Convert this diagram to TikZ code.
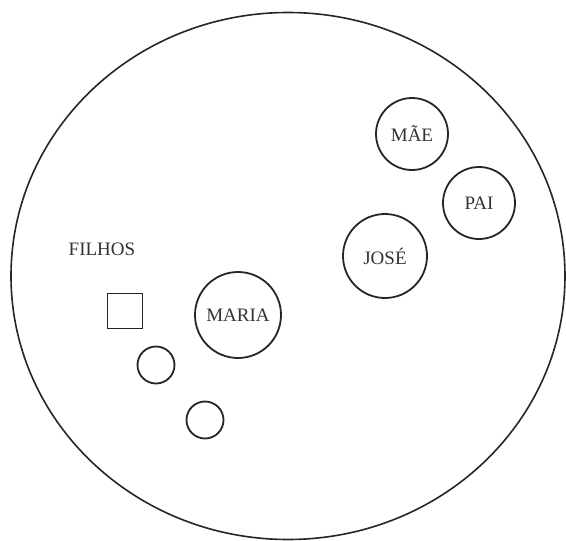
\documentclass[tikz,border=0pt]{standalone}
\usepackage{fontspec}
\setmainfont{Liberation Serif}
\usetikzlibrary{shapes.geometric}
\begin{document}
\begin{tikzpicture}[x=1pt,y=-1pt,
  person/.style={circle,draw=black!85,line width=1.8pt,inner sep=0pt,font=\fontsize{19}{19}\selectfont,text=black!80},
  child/.style={circle,draw=black!85,line width=1.8pt,inner sep=0pt,minimum size=37pt},
  boy/.style={rectangle,draw=black!85,line width=1.8pt,inner sep=0pt,minimum size=35pt},
  lbl/.style={font=\fontsize{19}{19}\selectfont,text=black!80,inner sep=0pt}]
\useasboundingbox (0,0) rectangle (566,541);
\node[ellipse,draw=black!85,line width=1.6pt,minimum width=554pt,minimum height=527pt,inner sep=0pt] (world) at (288,276) {};
\node[person,minimum size=72pt] (mae) at (412,134) {MÃE};
\node[person,minimum size=72pt] (pai) at (479,203) {PAI};
\node[person,minimum size=84pt] (jose) at (385,256) {JOSÉ};
\node[person,minimum size=86pt] (maria) at (238,315) {MARIA};
\node[lbl] (filhos) at (102,249) {FILHOS};
\node[boy] (sq) at (125,311) {};
\node[child] (c1) at (156,365) {};
\node[child] (c2) at (205,420) {};
\end{tikzpicture}
\end{document}
